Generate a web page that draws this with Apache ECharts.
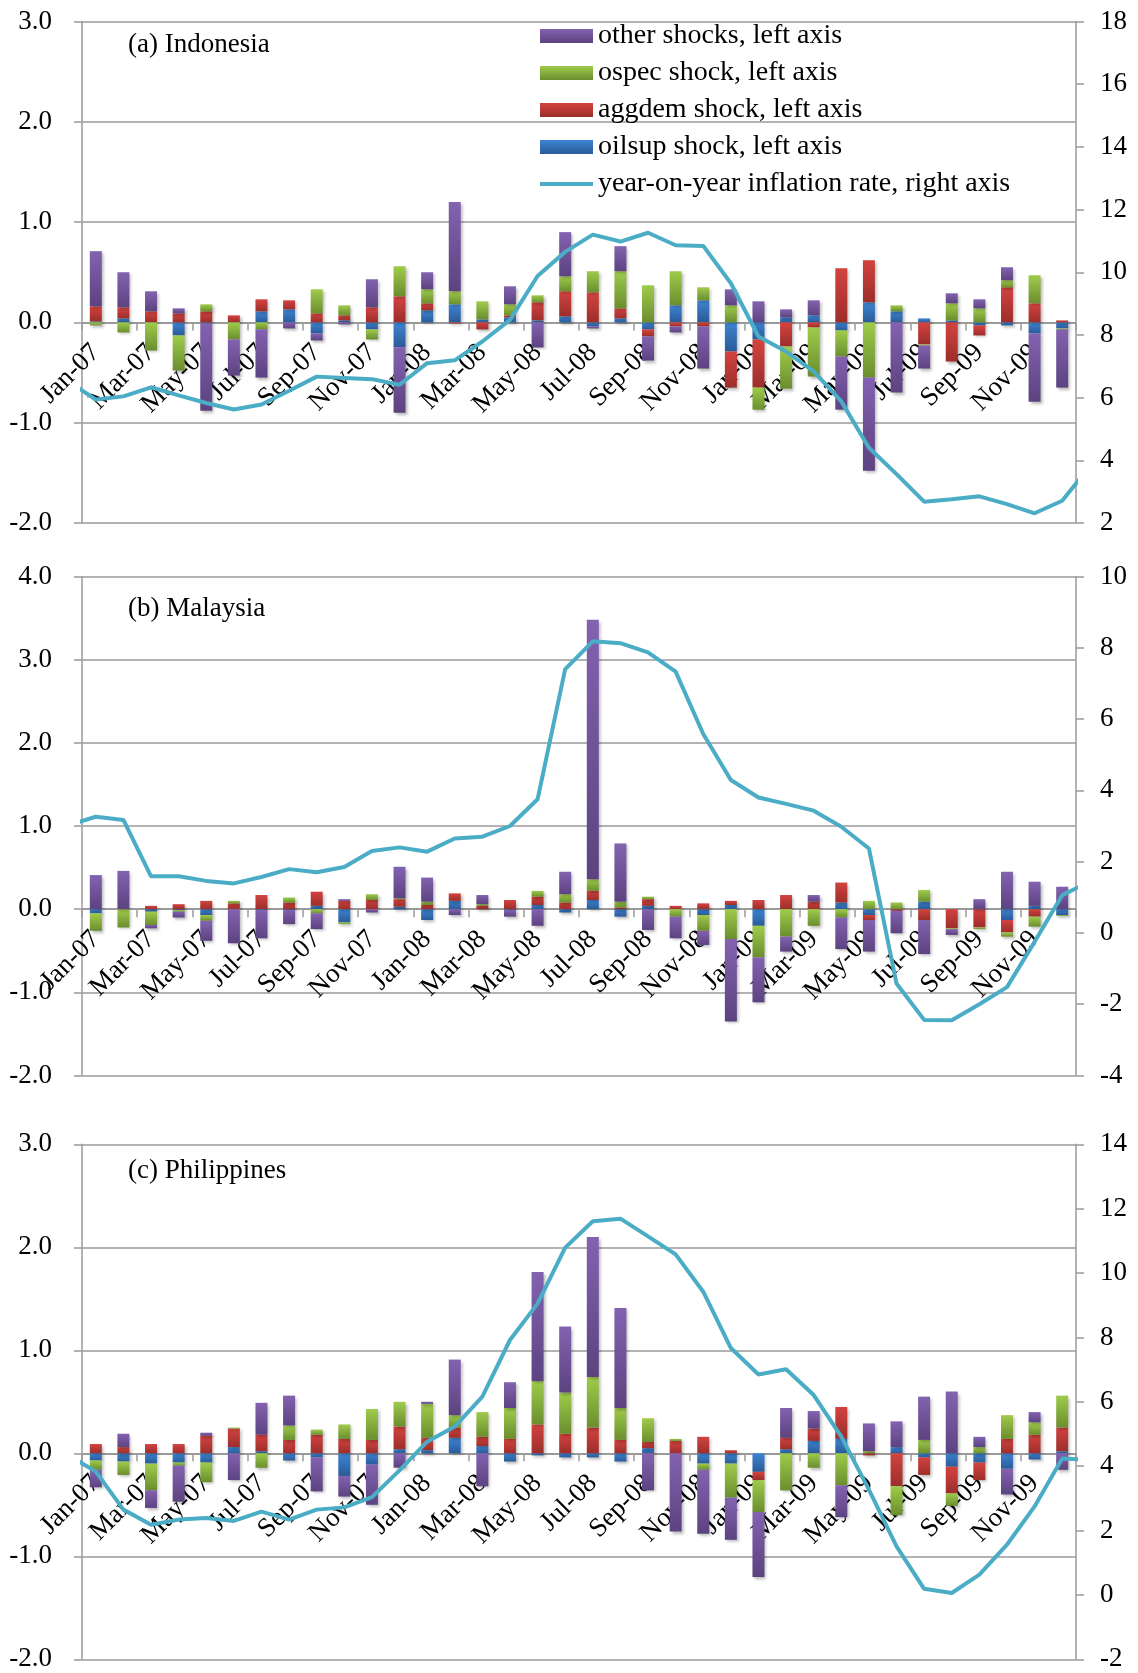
<!DOCTYPE html>
<html><head><meta charset="utf-8">
<script src="https://cdn.jsdelivr.net/npm/echarts@6/dist/echarts.min.js"></script>
<style>html,body{margin:0;padding:0;background:#fff}#c{width:1138px;height:1673px}</style>
</head><body><div id="c"></div>
<script>
// ---------- DATA ----------
const months = ['Jan-07','Feb-07','Mar-07','Apr-07','May-07','Jun-07','Jul-07','Aug-07','Sep-07','Oct-07','Nov-07','Dec-07',
  'Jan-08','Feb-08','Mar-08','Apr-08','May-08','Jun-08','Jul-08','Aug-08','Sep-08','Oct-08','Nov-08','Dec-08',
  'Jan-09','Feb-09','Mar-09','Apr-09','May-09','Jun-09','Jul-09','Aug-09','Sep-09','Oct-09','Nov-09','Dec-09'];
// inflation line months include one month either side (clipped at plot edges)
const lineMonths = ['Dec-06'].concat(months, ['Jan-10']);

const seriesNames = ['oilsup shock, left axis','aggdem shock, left axis','ospec shock, left axis','other shocks, left axis'];
const lineName = 'year-on-year inflation rate, right axis';
const panelTitles = ['(a) Indonesia','(b) Malaysia','(c) Philippines'];

// (a) Indonesia
const idnOil   = [0.01,0.04,0,-0.13,-0.01,0,0.11,0.13,-0.11,0.02,-0.07,-0.25, 0.12,0.18,0.03,0.05,0.02,0.06,-0.04,0.04,-0.07,0.17,0.22,-0.29, -0.17,0.05,0.07,-0.08,0.20,0.11,0.04,0.02,-0.03,-0.03,-0.11,-0.06];
const idnAgg   = [0.15,0.11,0.11,0.09,0.11,0.07,0.12,0.09,0.09,0.05,0.15,0.26, 0.07,-0.01,-0.07,0.02,0.18,0.25,0.30,0.10,-0.07,-0.04,-0.04,-0.36, -0.48,-0.24,-0.05,0.54,0.42,0,-0.22,-0.39,-0.10,0.35,0.19,0.02];
const idnOspec = [-0.03,-0.10,-0.28,-0.35,0.07,-0.17,-0.07,0,0.24,0.10,-0.10,0.30, 0.14,0.13,0.18,0.11,0.07,0.15,0.21,0.37,0.37,0.34,0.13,0.17, -0.22,-0.42,-0.49,-0.26,-0.55,0.06,-0.01,0.17,0.14,0.07,0.28,-0.01];
const idnOther = [0.55,0.35,0.20,0.05,-0.87,-0.36,-0.48,-0.06,-0.07,-0.02,0.28,-0.65, 0.17,0.89,0,0.18,-0.25,0.44,-0.02,0.25,-0.24,-0.06,-0.42,0.16, 0.21,0.08,0.15,-0.53,-0.93,-0.70,-0.23,0.10,0.09,0.13,-0.68,-0.58];
const idnInfl  = [6.52, 5.94,6.04,6.33,6.07,5.83,5.62,5.78,6.22,6.67,6.63,6.59,6.41, 7.10,7.19,7.79,8.48,9.88,10.65,11.20,10.98,11.26,10.86,10.84,9.65, 7.95,7.47,6.84,5.88,4.40,3.56,2.68,2.76,2.85,2.60,2.31,2.71, 3.81];

// (b) Malaysia
const mysOil   = [-0.05,0,-0.03,-0.01,-0.07,0,-0.01,-0.01,0.04,-0.16,0,0.03, -0.13,0.10,0,-0.01,0.05,-0.04,0.11,-0.09,0.04,0,-0.07,0.05, -0.20,0,0,0.08,-0.07,0,0.09,0,0,-0.13,0.04,-0.07];
const mysAgg   = [0,0,0.04,0.06,0.10,0.07,0.17,0.08,0.17,0.10,0.11,0.09, 0.05,0.09,0.04,0.11,0.10,0.08,0.11,0.02,0.08,0.04,0.07,0.05, 0.11,0.17,0.09,0.24,-0.06,-0.02,-0.13,-0.23,-0.22,-0.15,-0.09,0];
const mysOspec = [-0.21,-0.22,-0.16,-0.02,-0.07,0.03,0,0.06,-0.05,-0.02,0.07,0.01, 0.04,0,0.02,0,0.07,0.10,0.14,0.07,0.03,-0.09,-0.19,-0.36, -0.38,-0.33,-0.20,-0.10,0.10,0.08,0.14,-0.01,-0.02,-0.05,-0.12,-0.01];
const mysOther = [0.41,0.46,-0.04,-0.07,-0.24,-0.41,-0.34,-0.17,-0.19,0.02,-0.04,0.38, 0.29,-0.07,0.11,-0.08,-0.20,0.27,3.12,0.70,-0.25,-0.26,-0.17,-0.99, -0.54,-0.18,0.08,-0.38,-0.38,-0.27,-0.41,-0.07,0.12,0.45,0.29,0.27];
const mysInfl  = [3.02, 3.26,3.17,1.59,1.59,1.46,1.39,1.57,1.79,1.70,1.85,2.30,2.40, 2.28,2.65,2.70,3.00,3.75,7.40,8.18,8.13,7.87,7.33,5.58,4.29, 3.80,3.62,3.43,2.98,2.37,-1.42,-2.44,-2.45,-2.00,-1.52,-0.25,1.06, 1.44];

// (c) Philippines
const phlOil   = [-0.07,-0.08,-0.10,-0.09,-0.09,0.06,0.02,-0.07,-0.04,-0.22,-0.11,0.04, 0.03,0.15,0.07,-0.08,-0.02,-0.04,-0.04,-0.08,0.05,0,-0.10,-0.10, -0.18,0.04,0.12,0.14,0,0.06,-0.04,-0.13,-0.09,-0.15,-0.06,0.02];
const phlAgg   = [0.09,0.06,0.09,0.09,0.17,0.18,0.16,0.13,0.18,0.14,0.13,0.22, 0.12,0.10,0.09,0.14,0.28,0.19,0.25,0.13,0.06,0.12,0.16,0.03, -0.08,0.11,0.12,0.31,-0.02,-0.32,-0.17,-0.26,-0.17,0.14,0.18,0.23];
const phlOspec = [-0.09,-0.13,-0.26,-0.03,-0.19,0.01,-0.14,0.14,0.05,0.14,0.30,0.24, 0.33,0.12,0.24,0.30,0.42,0.40,0.49,0.31,0.23,0.02,-0.06,-0.33, -0.31,-0.36,-0.14,-0.31,0.02,-0.28,0.13,-0.12,0.06,0.23,0.12,0.31];
const phlOther = [-0.17,0.13,-0.17,-0.35,0.03,-0.26,0.31,0.29,-0.33,-0.20,-0.39,-0.14, 0.02,0.54,-0.32,0.25,1.06,0.64,1.36,0.97,-0.36,-0.76,-0.62,-0.41, -0.63,0.29,0.17,-0.31,0.27,0.25,0.42,0.60,0.10,-0.25,0.10,-0.16];
const phlInfl  = [4.35, 3.83,2.65,2.18,2.34,2.39,2.30,2.59,2.34,2.65,2.72,3.04,3.87, 4.76,5.23,6.16,7.92,9.05,10.79,11.61,11.69,11.14,10.58,9.42,7.67, 6.85,7.01,6.21,4.92,3.27,1.51,0.19,0.06,0.63,1.56,2.75,4.24, 4.20];

const leftTicks  = [[-2,3],[-2,4],[-2,3]];
const rightTicks = [[2,18],[-4,10],[-2,14]];

const panelData = [
  {bars:[idnOil,idnAgg,idnOspec,idnOther], infl:idnInfl},
  {bars:[mysOil,mysAgg,mysOspec,mysOther], infl:mysInfl},
  {bars:[phlOil,phlAgg,phlOspec,phlOther], infl:phlInfl}
];

// ---------- LAYOUT / STYLE ----------
const FONT = '"Liberation Serif", "Times New Roman", serif';
const grids = [
  {left:82, top:21.5, width:994, height:501.5},
  {left:82, top:576.5, width:994, height:499},
  {left:82, top:1144.3, width:994, height:515}
];
const titleTops = [31, 595, 1157];
const grad = (a,b) => new echarts.graphic.LinearGradient(0,0,0,1,[{offset:0,color:a},{offset:1,color:b}]);
const barColors = [grad('#3d84d2','#2a5b98'), grad('#d3433f','#9c2e2b'), grad('#9fcb4b','#6a8e2e'), grad('#8362b0','#5c4380')];
const GRID_COLOR = '#9a9a9a';

const xAxes = [], yAxes = [], series = [];
panelData.forEach((pd, p) => {
  const lo = leftTicks[p][0], hi = leftTicks[p][1];
  // category axis sits on the zero line of the left axis
  const zeroOffset = -grids[p].height * (0 - lo) / (hi - lo);
  xAxes.push({
    type:'category', gridIndex:p, data:months, position:'bottom', offset:zeroOffset,
    axisLine:{show:true, onZero:false, lineStyle:{color:GRID_COLOR, width:2}},
    axisTick:{show:true, interval:1, length:8, alignWithLabel:false, lineStyle:{color:GRID_COLOR, width:1.5}},
    axisLabel:{interval:1, rotate:45, margin:26, fontSize:27, fontFamily:FONT, color:'#000', hideOverlap:false},
    splitLine:{show:false}
  });
  xAxes.push({
    type:'value', gridIndex:p, min:-0.5, max:35.5, show:false,
    axisLine:{onZero:false}, splitLine:{show:false}
  });
  yAxes.push({
    type:'value', gridIndex:p, position:'left', min:lo, max:hi, interval:1,
    axisLine:{show:true, onZero:false, lineStyle:{color:GRID_COLOR, width:1.5}},
    axisTick:{show:true, length:8, lineStyle:{color:GRID_COLOR, width:1.5}},
    axisLabel:{margin:30, fontSize:27, fontFamily:FONT, color:'#000', formatter:v=>v.toFixed(1)},
    splitLine:{show:true, lineStyle:{color:GRID_COLOR, width:1.5}}
  });
  yAxes.push({
    type:'value', gridIndex:p, position:'right', min:rightTicks[p][0], max:rightTicks[p][1], interval:2,
    axisLine:{show:true, onZero:false, lineStyle:{color:GRID_COLOR, width:1.5}},
    axisTick:{show:true, length:8, lineStyle:{color:GRID_COLOR, width:1.5}},
    axisLabel:{margin:24, fontSize:27, fontFamily:FONT, color:'#000'},
    splitLine:{show:false}
  });
  pd.bars.forEach((vals, k) => {
    series.push({
      type:'bar', name:seriesNames[k], xAxisIndex:2*p, yAxisIndex:2*p, stack:'s'+p,
      data:vals, barWidth:12, itemStyle:{color:barColors[k], shadowColor:'rgba(0,0,0,0.28)', shadowBlur:3, shadowOffsetX:2, shadowOffsetY:2},
      z:2
    });
  });
  series.push({
    type:'line', name:lineName, xAxisIndex:2*p+1, yAxisIndex:2*p+1,
    data:pd.infl.map((v,i)=>[i-1, v]), symbol:'none', showSymbol:false, clip:true,
    lineStyle:{color:'#4BACC6', width:4}, itemStyle:{color:'#4BACC6'}, z:5
  });
});

const option = {
  animation:false,
  backgroundColor:'#fff',
  grid:grids,
  xAxis:xAxes, yAxis:yAxes, series:series,
  legend:{
    orient:'vertical', left:535, top:17, itemWidth:53, itemHeight:14, itemGap:9,
    textStyle:{fontSize:28, fontFamily:FONT, color:'#000', lineHeight:28},
    data:[
      {name:seriesNames[3], icon:'rect'},
      {name:seriesNames[2], icon:'rect'},
      {name:seriesNames[1], icon:'rect'},
      {name:seriesNames[0], icon:'rect'},
      {name:lineName, icon:'path://M0,0H53V4H0Z', itemStyle:{color:'#4BACC6'}}
    ],
    selectedMode:false
  },
  graphic: panelTitles.map((t,p)=>({type:'text', left:128, top:titleTops[p], style:{text:t, font:'27px '+FONT, fill:'#000'}}))
};
const chart = echarts.init(document.getElementById('c'), null, {renderer:'canvas'});
chart.setOption(option);
</script></body></html>
